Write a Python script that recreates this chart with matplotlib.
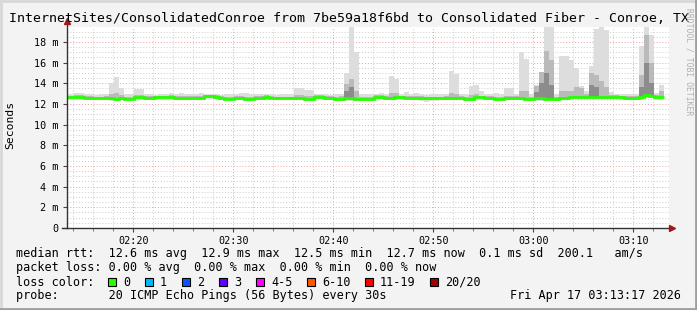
import numpy as np
import matplotlib
matplotlib.use('Agg')
import matplotlib.pyplot as plt
from matplotlib.patches import Rectangle
from matplotlib.lines import Line2D

W, H = 697, 310
MONO = 'DejaVu Sans Mono'

# 30 s steps, time in minutes after 02:00
t_start = 13.05
step = 0.5

median = [12.65, 12.65, 12.65, 12.65, 12.6, 12.6, 12.55, 12.55, 12.55, 12.55,
          12.5, 12.55, 12.5, 12.5, 12.65, 12.65, 12.6, 12.6, 12.65, 12.65,
          12.65, 12.65, 12.55, 12.6, 12.6, 12.6, 12.55, 12.55, 12.75, 12.75,
          12.7, 12.6, 12.5, 12.5, 12.6, 12.6, 12.5, 12.5, 12.6, 12.6,
          12.7, 12.6, 12.55, 12.55, 12.55, 12.55, 12.6, 12.6, 12.5, 12.5,
          12.7, 12.7, 12.6, 12.6, 12.5, 12.5, 12.55, 12.55, 12.5, 12.5,
          12.45, 12.45, 12.7, 12.7, 12.6, 12.6, 12.65, 12.65, 12.6, 12.6,
          12.6, 12.6, 12.6, 12.6, 12.55, 12.55, 12.6, 12.6, 12.58, 12.58,
          12.52, 12.52, 12.65, 12.65, 12.58, 12.58, 12.52, 12.52, 12.62, 12.62,
          12.58, 12.58, 12.52, 12.52, 12.55, 12.55, 12.49, 12.49, 12.49, 12.55,
          12.55, 12.72, 12.72, 12.72, 12.72, 12.72, 12.72, 12.72, 12.72, 12.65,
          12.65, 12.65, 12.58, 12.58, 12.58, 12.65, 12.88, 12.78, 12.65, 12.65]

smoke_lo = [12.4, 12.4, 12.42, 12.4, 12.38, 12.38, 12.36, 12.38, 12.36, 12.3,
            12.3, 12.35, 12.36, 12.36, 12.4, 12.4, 12.38, 12.38, 12.4, 12.4,
            12.4, 12.4, 12.35, 12.38, 12.38, 12.4, 12.36, 12.36, 12.45, 12.45,
            12.45, 12.4, 12.36, 12.36, 12.38, 12.38, 12.32, 12.34, 12.38, 12.38,
            12.42, 12.4, 12.36, 12.36, 12.36, 12.36, 12.38, 12.38, 12.32, 12.32,
            12.45, 12.45, 12.4, 12.38, 12.32, 12.32, 12.3, 12.3, 12.3, 12.32,
            12.3, 12.3, 12.45, 12.45, 12.38, 12.36, 12.4, 12.4, 12.38, 12.38,
            12.36, 12.3, 12.2, 12.25, 12.32, 12.34, 12.38, 12.35, 12.36, 12.36,
            12.32, 12.32, 12.42, 12.42, 12.36, 12.36, 12.32, 12.3, 12.38, 12.38,
            12.38, 12.36, 12.3, 12.3, 12.32, 12.3, 12.28, 12.28, 12.3, 12.34,
            12.34, 12.5, 12.5, 12.5, 12.5, 12.5, 12.5, 12.5, 12.5, 12.45,
            12.45, 12.42, 12.36, 12.36, 12.36, 12.42, 12.62, 12.55, 12.42, 12.42]

smoke_hi = [12.95, 12.95, 13.05, 13.05, 12.95, 12.95, 12.9, 12.95, 12.95, 14.0,
            14.6, 13.55, 12.95, 12.95, 13.45, 13.45, 12.95, 12.95, 12.9, 12.95,
            13.0, 13.05, 12.95, 13.05, 13.0, 12.95, 12.95, 13.05, 13.0, 12.95,
            12.95, 12.9, 12.95, 13.0, 13.0, 13.05, 13.1, 12.95, 12.95, 12.95,
            13.0, 12.95, 12.9, 12.95, 12.95, 12.95, 13.5, 13.5, 13.4, 13.4,
            12.95, 12.95, 12.95, 12.9, 12.95, 13.0, 15.0, 19.45, 17.0, 12.95,
            12.95, 13.0, 12.95, 13.05, 12.95, 14.7, 14.45, 13.0, 13.2, 13.0,
            13.05, 12.95, 12.9, 12.95, 12.95, 13.0, 12.95, 15.2, 14.9, 12.95,
            12.95, 13.7, 13.85, 13.3, 13.0, 12.95, 13.05, 13.0, 13.5, 13.5,
            12.95, 17.0, 16.4, 12.95, 13.85, 15.1, 19.45, 19.45, 13.0, 16.65,
            16.65, 16.3, 15.5, 13.75, 13.3, 15.7, 19.3, 19.45, 19.2, 13.2,
            13.0, 13.0, 12.95, 12.95, 13.0, 17.6, 19.45, 18.7, 13.05, 13.85]

mid_lo = [12.55, 12.55, 12.55, 12.55, 12.5, 12.5, 12.45, 12.45, 12.45, 12.42,
          12.4, 12.45, 12.42, 12.42, 12.55, 12.55, 12.5, 12.5, 12.55, 12.55,
          12.55, 12.55, 12.45, 12.5, 12.5, 12.5, 12.45, 12.45, 12.62, 12.62,
          12.6, 12.5, 12.42, 12.42, 12.5, 12.5, 12.42, 12.42, 12.5, 12.5,
          12.6, 12.5, 12.45, 12.45, 12.45, 12.45, 12.5, 12.5, 12.42, 12.42,
          12.6, 12.6, 12.5, 12.5, 12.42, 12.42, 12.42, 12.42, 12.4, 12.42,
          12.38, 12.38, 12.6, 12.6, 12.5, 12.5, 12.55, 12.55, 12.5, 12.5,
          12.5, 12.45, 12.4, 12.45, 12.45, 12.45, 12.5, 12.5, 12.48, 12.48,
          12.42, 12.42, 12.55, 12.55, 12.48, 12.48, 12.42, 12.4, 12.52, 12.52,
          12.48, 12.48, 12.42, 12.42, 12.42, 12.42, 12.38, 12.38, 12.4, 12.45,
          12.45, 12.62, 12.62, 12.62, 12.62, 12.6, 12.6, 12.6, 12.6, 12.55,
          12.55, 12.55, 12.48, 12.48, 12.48, 12.55, 12.75, 12.68, 12.55, 12.55]

mid_hi = [12.8, 12.8, 12.85, 12.85, 12.75, 12.75, 12.72, 12.72, 12.75, 13.0,
          13.1, 12.85, 12.7, 12.7, 12.85, 12.85, 12.75, 12.75, 12.8, 12.8,
          12.82, 12.85, 12.75, 12.8, 12.8, 12.75, 12.75, 12.78, 12.9, 12.9,
          12.85, 12.78, 12.68, 12.7, 12.8, 12.8, 12.7, 12.7, 12.78, 12.78,
          12.85, 12.78, 12.72, 12.72, 12.72, 12.72, 12.85, 12.85, 12.75, 12.75,
          12.85, 12.85, 12.78, 12.75, 12.7, 12.75, 13.9, 14.4, 13.3, 12.7,
          12.65, 12.7, 12.88, 12.88, 12.8, 13.1, 13.05, 12.82, 12.8, 12.78,
          12.8, 12.75, 12.72, 12.72, 12.72, 12.72, 12.8, 13.1, 13.0, 12.75,
          12.72, 12.9, 12.95, 12.82, 12.75, 12.75, 12.72, 12.72, 12.8, 12.8,
          12.75, 13.3, 13.3, 12.72, 13.7, 15.1, 17.1, 16.3, 12.72, 13.3,
          13.3, 13.3, 13.6, 13.5, 12.95, 15.0, 14.8, 14.2, 13.6, 12.85,
          12.85, 12.82, 12.75, 12.75, 12.78, 14.8, 18.7, 16.0, 12.85, 13.3]

dark_bins = [56, 57, 94, 95, 96, 97, 105, 106, 115, 116, 117]
dark_lo = [12.45, 12.45, 12.45, 12.45, 12.42, 12.42, 12.65, 12.65, 12.6, 12.8, 12.7]
dark_hi = [13.3, 13.6, 13.2, 14.0, 15.0, 13.8, 13.8, 13.6, 13.6, 16.0, 14.0]

x_major = [20, 30, 40, 50, 60, 70]
x_labels = ['02:20', '02:30', '02:40', '02:50', '03:00', '03:10']
y_major = [0, 2, 4, 6, 8, 10, 12, 14, 16, 18]
y_labels = ['0'] + ['%d m' % v for v in y_major[1:]]

title = 'InternetSites/ConsolidatedConroe from 7be59a18f6bd to Consolidated Fiber - Conroe, TX'
rtt_line = 'median rtt:  12.6 ms avg  12.9 ms max  12.5 ms min  12.7 ms now  0.1 ms sd  200.1   am/s'
loss_line = 'packet loss: 0.00 % avg  0.00 % max  0.00 % min  0.00 % now'
probe_line = 'probe:       20 ICMP Echo Pings (56 Bytes) every 30s'
stamp = 'Fri Apr 17 03:13:17 2026'
loss_labels = ['0', '1', '2', '3', '4-5', '6-10', '11-19', '20/20']
loss_colors = ['#26ff00', '#00b8ff', '#0059ff', '#5e00ff', '#ff00ff', '#ff5500', '#ff0000', '#a10000']
loss_box_x = [108, 145, 182, 219, 256, 307, 365, 430]

n = len(median)
edges = t_start + step * np.arange(n + 1)

fig = plt.figure(figsize=(W / 100, H / 100), dpi=100)
fig.patch.set_facecolor('#f3f3f3')

def px(x, y):
    return x / W, 1 - y / H

L, R, T, B = 67, 669, 27, 228
ax = fig.add_axes([L / W, (H - B) / H, (R - L) / W, (B - T) / H])
ax.set_facecolor('white')
ax.set_xlim(t_start + 0.3, t_start + (R - 64) / 10)
ax.set_ylim(0, 19.45)

# grid
for v in np.arange(0.5, 19.45, 0.5):
    if v % 2 != 0:
        ax.axhline(v, color='#cccccc', lw=0.7, ls=(0, (1, 2)), zorder=0)
for v in y_major[1:]:
    ax.axhline(v, color='#f0a0a0', lw=0.7, ls=(0, (1, 2)), zorder=0)
for v in range(14, 74, 2):
    if v % 10 != 0:
        ax.axvline(v, color='#cccccc', lw=0.7, ls=(0, (1, 2)), zorder=0)
for v in x_major:
    ax.axvline(v, color='#f0a0a0', lw=0.7, ls=(0, (1, 2)), zorder=0)

# smoke
ax.stairs(smoke_hi, edges, baseline=smoke_lo, fill=True, color='#dddddd', lw=0, zorder=2)
ax.stairs(mid_hi, edges, baseline=mid_lo, fill=True, color='#bababa', lw=0, zorder=3)
for k, lo, hi in zip(dark_bins, dark_lo, dark_hi):
    ax.bar(edges[k], hi - lo, width=step, bottom=lo, align='edge', color='#8c8c8c', lw=0, zorder=4)
ax.stairs(median, edges, baseline=None, color='#26ff00', lw=2, zorder=5)

for s in ax.spines.values():
    s.set_visible(False)
ax.set_xticks(x_major)
ax.set_xticklabels(x_labels, family=MONO, fontsize=7.3)
ax.set_xticks(range(14, 74, 2), minor=True)
ax.set_yticks(y_major)
ax.set_yticklabels(y_labels, family=MONO, fontsize=7.3)
ax.tick_params(axis='both', which='major', length=3, width=0.8, color='#444444', pad=3)
ax.tick_params(axis='x', which='minor', length=2, width=0.6, color='#666666')

# axes lines with arrows
fig.add_artist(Line2D([L / W, L / W], [(H - B) / H, (H - 22) / H], color='#333333', lw=1))
fig.add_artist(Line2D([62 / W, 670 / W], [(H - B) / H, (H - B) / H], color='#333333', lw=1))
fig.add_artist(Line2D([L / W], [(H - 21) / H], marker='^', ms=5, color='#a01818', lw=0))
fig.add_artist(Line2D([672 / W], [(H - B) / H], marker='>', ms=5, color='#a01818', lw=0))

# texts
fig.text(*px(349, 19), title, ha='center', va='center', family=MONO, fontsize=9.55)
fig.text(*px(10, 125), 'Seconds', ha='center', va='center', rotation=90, family=MONO, fontsize=8.2)
fig.text(*px(689, 62), 'RRDTOOL / TOBI OETIKER', ha='center', va='center', rotation=270,
         family=MONO, fontsize=5.8, color='#b0b0b0')

fig.text(*px(16, 254), rtt_line, ha='left', va='center', family=MONO, fontsize=8.5)
fig.text(*px(16, 268), loss_line, ha='left', va='center', family=MONO, fontsize=8.5)
fig.text(*px(16, 282), 'loss color:', ha='left', va='center', family=MONO, fontsize=8.5)
for bx, lab, col in zip(loss_box_x, loss_labels, loss_colors):
    fig.add_artist(Rectangle(px(bx, 286), 8 / W, 8 / H, facecolor=col, edgecolor='black', lw=0.8))
    fig.text(*px(bx + 15, 282), lab, ha='left', va='center', family=MONO, fontsize=8.5)
fig.text(*px(16, 296), probe_line, ha='left', va='center', family=MONO, fontsize=8.5)
fig.text(*px(681, 296), stamp, ha='right', va='center', family=MONO, fontsize=8.5)

# frame
fig.add_artist(Line2D([0, 1], [1 - 1 / H, 1 - 1 / H], color='#d8d8d8', lw=2))
fig.add_artist(Line2D([1 / W, 1 / W], [0, 1], color='#d8d8d8', lw=2))
fig.add_artist(Line2D([0, 1], [1 / H, 1 / H], color='#9e9e9e', lw=2))
fig.add_artist(Line2D([1 - 1 / W, 1 - 1 / W], [0, 1], color='#9e9e9e', lw=2))

fig.savefig('out.png', dpi=100, facecolor=fig.get_facecolor())
